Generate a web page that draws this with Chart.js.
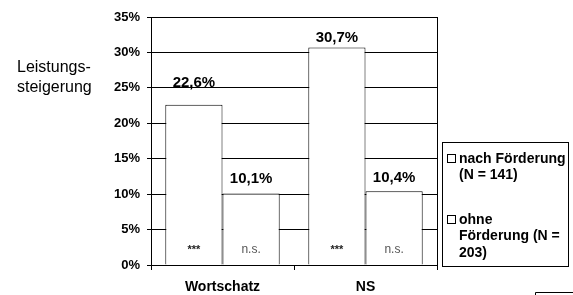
<!DOCTYPE html>
<html>
<head>
<meta charset="utf-8">
<script src="https://cdn.jsdelivr.net/npm/chart.js@4.4.0/dist/chart.umd.min.js"></script>
<style>
  html, body { margin: 0; padding: 0; background: #fff; }
  #wrap { width: 573px; height: 295px; }
</style>
</head>
<body>
<div id="wrap"><canvas id="chart" width="573" height="295"></canvas></div>
<script>
const categories = ['Wortschatz', 'NS'];
const nachFoerderung = [22.6, 30.7];
const ohneFoerderung = [10.1, 10.4];
const significance = [['***', '***'], ['n.s.', 'n.s.']];
const seriesLabels = [['nach Förderung', '(N = 141)'], ['ohne', 'Förderung (N =', '203)']];
const yTitle = ['Leistungs-', 'steigerung'];

const FONT = "'Liberation Sans', Arial, sans-serif";

// value labels, significance marks, y title, legend box
const annotations = {
  id: 'annotations',
  beforeDatasetsDraw(chart) {
    const ctx = chart.ctx;
    const a = chart.chartArea;
    ctx.save();
    ctx.strokeStyle = '#000';
    ctx.lineWidth = 1;
    ctx.beginPath();
    ctx.moveTo(Math.round(a.right) + 0.5, a.top);
    ctx.lineTo(Math.round(a.right) + 0.5, a.bottom);
    ctx.stroke();
    ctx.restore();
  },
  afterDraw(chart) {
    const ctx = chart.ctx;
    const offsets = [[22, 10], [15, 13]];
    ctx.save();
    ctx.textAlign = 'center';
    ctx.textBaseline = 'middle';
    chart.data.datasets.forEach((ds, di) => {
      chart.getDatasetMeta(di).data.forEach((bar, i) => {
        ctx.fillStyle = '#000';
        ctx.font = 'bold 15px ' + FONT;
        ctx.fillText(ds.data[i].toFixed(1).replace('.', ',') + '%', bar.x, bar.y - offsets[di][i]);
        const s = significance[di][i];
        if (s === '***') {
          ctx.fillStyle = '#222';
          ctx.font = 'bold 11px ' + FONT;
        } else {
          ctx.fillStyle = '#555';
          ctx.font = '12px ' + FONT;
        }
        ctx.fillText(s, bar.x, 250);
      });
    });

    // y axis title
    ctx.textAlign = 'left';
    ctx.fillStyle = '#000';
    ctx.font = '16px ' + FONT;
    yTitle.forEach((t, i) => ctx.fillText(t, 17, 68 + i * 20));

    // legend
    ctx.fillStyle = '#fff';
    ctx.fillRect(438, 141, 133, 128);
    ctx.strokeStyle = '#000';
    ctx.lineWidth = 1;
    ctx.strokeRect(442.5, 142.5, 126, 124);
    ctx.font = 'bold 14px ' + FONT;
    const starts = [159, 220];
    seriesLabels.forEach((lines, k) => {
      ctx.strokeStyle = '#000';
      ctx.strokeRect(447.5, starts[k] - 4.5, 8, 8);
      ctx.fillStyle = '#000';
      lines.forEach((t, j) => ctx.fillText(t, 459, starts[k] + j * 16.5));
    });

    // small box bottom right
    ctx.strokeStyle = '#000';
    ctx.beginPath();
    ctx.moveTo(535.5, 296);
    ctx.lineTo(535.5, 292.5);
    ctx.lineTo(573, 292.5);
    ctx.stroke();
    ctx.restore();
  }
};

const barStyle = {
  backgroundColor: '#fff',
  borderColor: '#000',
  borderWidth: 1,
  categoryPercentage: 0.8,
  barPercentage: 1.0
};

new Chart(document.getElementById('chart'), {
  type: 'bar',
  data: {
    labels: categories,
    datasets: [
      Object.assign({ label: seriesLabels[0].join(' '), data: nachFoerderung }, barStyle),
      Object.assign({ label: seriesLabels[1].join(' '), data: ohneFoerderung }, barStyle)
    ]
  },
  options: {
    responsive: false,
    animation: false,
    devicePixelRatio: 1,
    layout: { padding: { left: 0, right: 136, top: 17, bottom: 0 } },
    plugins: {
      colors: { enabled: false },
      legend: { display: false },
      tooltip: { enabled: false }
    },
    scales: {
      y: {
        min: 0,
        max: 35,
        afterFit(scale) { scale.width = 151; },
        ticks: {
          stepSize: 5,
          padding: 7,
          color: '#000',
          font: { family: FONT, size: 13, weight: 'bold' },
          callback: v => v + '%'
        },
        grid: { color: '#000', lineWidth: 1, tickLength: 4 },
        border: { color: '#000', width: 1 }
      },
      x: {
        afterFit(scale) { scale.height = 30; },
        ticks: {
          padding: 9,
          color: '#000',
          font: { family: FONT, size: 14, weight: 'bold' }
        },
        grid: { drawOnChartArea: false, color: '#000', tickLength: 5, offset: true },
        border: { color: '#000', width: 1 }
      }
    }
  },
  plugins: [annotations]
});
</script>
</body>
</html>
